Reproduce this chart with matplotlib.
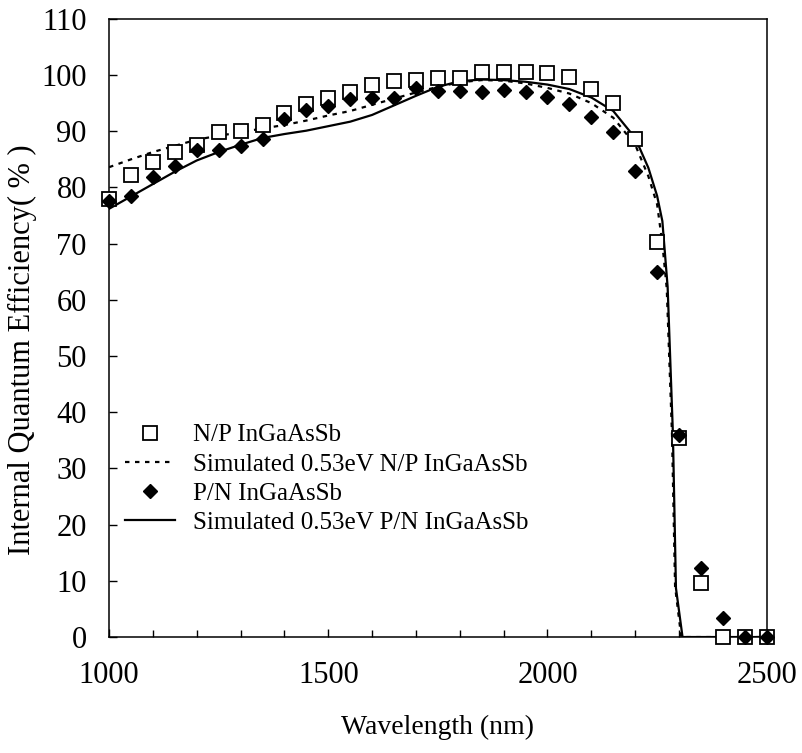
import numpy as np
import matplotlib
matplotlib.use("Agg")
import matplotlib.pyplot as plt
from matplotlib.ticker import MultipleLocator

plt.rcParams.update({
    "font.family": ["Liberation Serif", "DejaVu Serif"],
    "font.size": 22,
})

# measured points, every 50 nm
wl = np.arange(1000, 2501, 50)
iqe_np = [78.0, 82.3, 84.5, 86.3, 87.6, 89.8, 90.1, 91.1, 93.3, 94.8,
          96.0, 97.0, 98.3, 99.0, 99.1, 99.4, 99.5, 100.6, 100.5, 100.6,
          100.3, 99.7, 97.6, 95.1, 88.7, 70.3, 35.4, 9.7, 0.0, 0.0, 0.0]
iqe_pn = [77.5, 78.5, 81.8, 83.8, 86.7, 86.7, 87.3, 88.6, 92.1, 93.8,
          94.5, 95.8, 95.9, 95.9, 97.7, 97.1, 97.1, 97.0, 97.3, 97.0,
          96.1, 94.9, 92.5, 89.8, 82.9, 65.0, 36.0, 12.3, 3.4, 0.0, 0.0]

# simulated curves
sim_np_wl = [1000, 1050, 1100, 1150, 1200, 1250, 1300, 1350, 1400, 1450,
             1500, 1550, 1600, 1650, 1700, 1750, 1800, 1850, 1900, 1950,
             2000, 2050, 2100, 2150, 2200, 2230, 2250, 2262, 2272, 2284,
             2291, 2305, 2500]
sim_np = [83.6, 85.0, 86.3, 87.4, 88.5, 89.2, 89.8, 90.5, 91.1, 91.9,
          92.8, 93.6, 94.7, 95.8, 96.9, 97.9, 98.7, 99.1, 99.0, 98.5,
          97.7, 96.7, 95.0, 92.4, 87.6, 82.0, 77.0, 70.0, 62.0, 36.0,
          9.0, 0.0, 0.0]

sim_pn_wl = [1000, 1050, 1100, 1150, 1200, 1250, 1300, 1350, 1400, 1450,
             1500, 1550, 1600, 1650, 1700, 1750, 1800, 1850, 1900, 1950,
             2000, 2050, 2100, 2150, 2200, 2230, 2250, 2262, 2274, 2286,
             2293, 2308, 2500]
sim_pn = [76.2, 78.4, 80.6, 82.8, 84.8, 86.3, 87.6, 88.8, 89.5, 90.1,
          90.9, 91.7, 92.9, 94.6, 96.3, 97.9, 98.9, 99.2, 99.1, 98.8,
          98.3, 97.5, 96.0, 93.6, 88.8, 83.5, 78.5, 74.0, 62.3, 36.3,
          8.7, 0.0, 0.0]

fig = plt.figure(figsize=(8.02, 7.53), dpi=100)
ax = fig.add_axes([0.136, 0.154, 0.820, 0.821])

ax.plot(wl, iqe_np, ls="none", marker="s", ms=9.5, mfc="white", mec="black",
        mew=1.3, label="N/P InGaAsSb", zorder=3, clip_on=False)
ax.plot(sim_np_wl, sim_np, color="black", lw=1.6, ls=(0, (2, 2.5)),
        label="Simulated 0.53eV N/P InGaAsSb", zorder=2)
ax.plot(wl, iqe_pn, ls="none", marker="D", ms=7, mfc="black", mec="black",
        label="P/N InGaAsSb", zorder=4, clip_on=False)
ax.plot(sim_pn_wl, sim_pn, color="black", lw=1.6, ls="-",
        label="Simulated 0.53eV P/N InGaAsSb", zorder=2)

ax.set_xlim(1000, 2500)
ax.set_ylim(0, 110)
ax.xaxis.set_major_locator(MultipleLocator(500))
ax.xaxis.set_minor_locator(MultipleLocator(100))
ax.yaxis.set_major_locator(MultipleLocator(10))
ax.tick_params(axis="x", which="major", direction="in", length=6, width=1, pad=17)
ax.tick_params(axis="x", which="minor", direction="in", length=5, width=1)
ax.tick_params(axis="y", direction="in", length=6, width=1, pad=16)
for s in ax.spines.values():
    s.set_linewidth(1.1)

ax.set_xlabel("Wavelength (nm)", fontsize=20, labelpad=18)
ax.set_ylabel("Internal Quantum Efficiency( % )", fontsize=22)
ax.yaxis.set_label_coords(-0.109, 0.464)

ax.legend(loc="upper left", bbox_to_anchor=(0.024, 0.345), frameon=False,
          fontsize=18, handlelength=2.0, handletextpad=0.72, labelspacing=0.27,
          borderpad=0, borderaxespad=0)

fig.savefig("out.png", dpi=100)
